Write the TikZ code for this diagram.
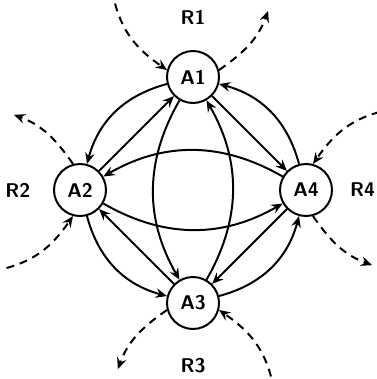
\documentclass[tikz,border=0pt]{standalone}
\usepackage{amsmath}
\usepackage{tikz}
\usetikzlibrary{arrows.meta}

\begin{document}
\begin{tikzpicture}[>={Stealth[length=2mm,width=1.7mm,inset=0.7mm]}, font=\sffamily\bfseries,
		edge/.style={line width=1pt},
		region/.style={line width=1pt, dash pattern=on 4pt off 3pt},
		agent/.style={circle, draw, line width=1pt, minimum size=0.92cm, inner sep=0pt}]
			\useasboundingbox (-3.416,-3.345) rectangle (3.239,3.363);

			% Nodes
			\node[agent] (A1) at (0,2) {A1};
			\node[agent] (A2) at (-2,0) {A2};
			\node[agent] (A3) at (0,-2) {A3};
			\node[agent] (A4) at (2,0) {A4};

			% Region labels
			\node (R1) at (0,3.05) {R1};
			\node (R2) at (-3.1,0) {R2};
			\node (R3) at (0,-3.1) {R3};
			\node (R4) at (3.0,0) {R4};

			% Free ends of the dashed edges
			\coordinate (in1) at (-1.38,3.3);
			\coordinate (out1) at (1.33,3.17);
			\coordinate (in2) at (-3.3,-1.38);
			\coordinate (out2) at (-3.17,1.33);
			\coordinate (in3) at (1.38,-3.3);
			\coordinate (out3) at (-1.33,-3.17);
			\coordinate (in4) at (3.3,1.38);
			\coordinate (out4) at (3.17,-1.33);

			% Straight edges
			\draw[edge,->] (A2) -- (A1);
			\draw[edge,->] (A1) -- (A4);
			\draw[edge,->] (A4) -- (A3);
			\draw[edge,->] (A3) -- (A2);

			% Outer curved edges
			\draw[edge,->,bend right=30] (A1) to (A2);
			\draw[edge,->,bend right=30] (A2) to (A3);
			\draw[edge,->,bend right=30] (A3) to (A4);
			\draw[edge,->,bend right=30] (A4) to (A1);

			% Inner curved edges
			\draw[edge,->,bend right=30] (A4) to (A2);
			\draw[edge,->,bend right=30] (A2) to (A4);
			\draw[edge,->,bend right=30] (A1) to (A3);
			\draw[edge,->,bend right=30] (A3) to (A1);

			% Dashed edges in and out of the regions
			\draw[region,->] (in1) to[out=-75,in=145] (A1.165);
			\draw[region,->] (A1.15) to[out=35,in=-110] (out1);
			\draw[region,->] (in2) to[out=15,in=235] (A2.255);
			\draw[region,->] (A2.105) to[out=125,in=-20] (out2);
			\draw[region,->] (in3) to[out=105,in=325] (A3.345);
			\draw[region,->] (A3.195) to[out=215,in=70] (out3);
			\draw[region,->] (in4) to[out=195,in=55] (A4.75);
			\draw[region,->] (A4.285) to[out=305,in=160] (out4);

		\end{tikzpicture}
\end{document}
